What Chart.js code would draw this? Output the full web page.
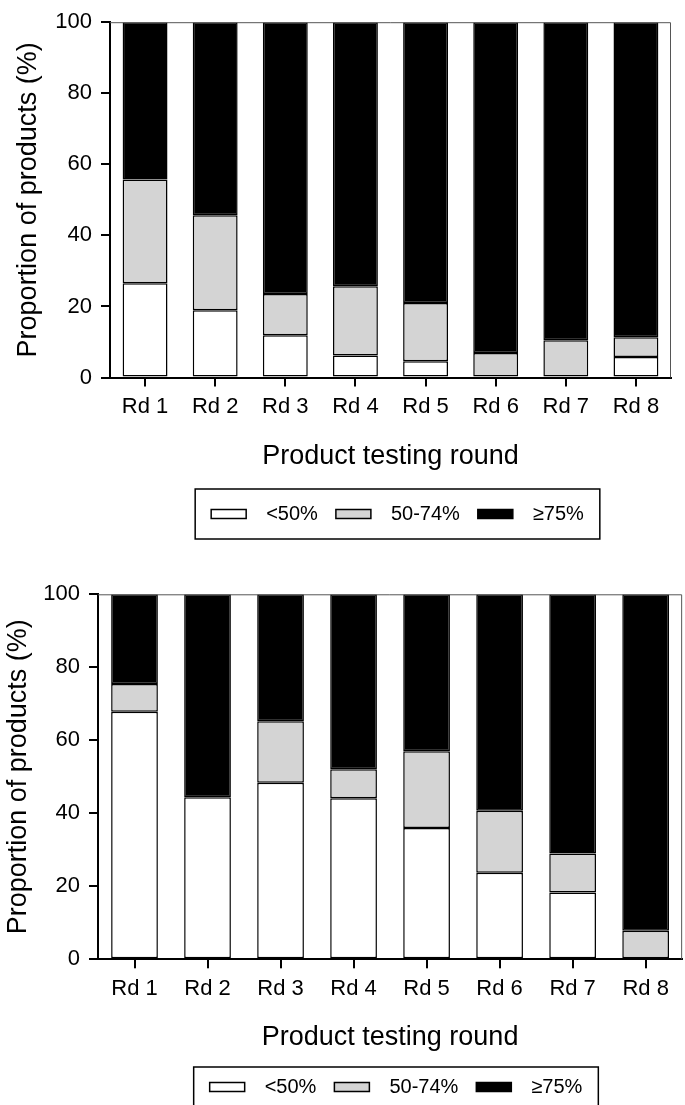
<!DOCTYPE html>
<html>
<head>
<meta charset="utf-8">
<script src="https://cdn.jsdelivr.net/npm/chart.js@4"></script>
<style>
  body { margin: 0; background: #fff; }
  canvas { display: block; }
</style>
</head>
<body>
<canvas id="chartTop" width="685" height="560"></canvas>
<canvas id="chartBottom" width="685" height="545"></canvas>
<script>
// categories
var rounds = ['Rd 1', 'Rd 2', 'Rd 3', 'Rd 4', 'Rd 5', 'Rd 6', 'Rd 7', 'Rd 8'];
var legendLabels = ['<50%', '50-74%', '\u226575%'];
var yTicks = [0, 20, 40, 60, 80, 100];

// top panel (% of products in each band)
var topBelow50 = [26.5, 18.9, 11.9, 6.2, 4.6, 0, 0, 5.8];
var topMid = [29.2, 26.8, 11.6, 19.5, 16.4, 6.9, 10.5, 5.5];
var topHigh = [44.3, 54.3, 76.5, 74.3, 79.0, 93.1, 89.5, 88.7];

// bottom panel
var botBelow50 = [67.8, 44.4, 48.4, 44.1, 36.0, 23.7, 18.3, 0];
var botMid = [7.6, 0, 16.8, 8.0, 21.0, 17.0, 10.7, 7.8];
var botHigh = [24.6, 55.6, 34.8, 47.9, 43.0, 59.3, 71.0, 92.2];

var FONT = '"Liberation Sans", Arial, sans-serif';
Chart.defaults.font.family = FONT;
Chart.defaults.color = '#000';

// thin frame on top and right of the plot area + tick marks under each round
var frame = {
    id: 'frame',
    afterDraw: function(chart) {
        var a = chart.chartArea, ctx = chart.ctx, xs = chart.scales.x;
        ctx.save();
        ctx.strokeStyle = '#555';
        ctx.lineWidth = 1;
        ctx.beginPath();
        ctx.moveTo(a.left, a.top + 0.5);
        ctx.lineTo(a.right - 0.5, a.top + 0.5);
        ctx.lineTo(a.right - 0.5, a.bottom);
        ctx.stroke();
        ctx.fillStyle = '#000';
        rounds.forEach(function(r, i) {
            var px = Math.round(xs.getPixelForValue(i));
            ctx.fillRect(px - 1, a.bottom, 2, 9);
        });
        ctx.restore();
    }
};

// boxed legend under the axis title
var boxLegend = {
    id: 'boxLegend',
    afterDraw: function(chart, args, opts) {
        var ctx = chart.ctx;
        ctx.save();
        ctx.font = opts.fontSize + 'px ' + FONT;
        var items = chart.data.datasets.map(function(ds) {
            return { text: ds.label, fill: ds.backgroundColor, w: ctx.measureText(ds.label).width };
        });
        var total = opts.padX * 2;
        items.forEach(function(it, i) {
            total += opts.swatchW + opts.gap + it.w + (i ? opts.itemGap : 0);
        });
        var left = opts.centerX - total / 2;
        var cy = opts.top + opts.height / 2;
        ctx.strokeStyle = '#000';
        ctx.lineWidth = 1.5;
        ctx.strokeRect(left, opts.top, total, opts.height);
        var x = left + opts.padX;
        ctx.textBaseline = 'middle';
        items.forEach(function(it) {
            ctx.fillStyle = it.fill;
            ctx.fillRect(x, cy - opts.swatchH / 2, opts.swatchW, opts.swatchH);
            ctx.strokeRect(x, cy - opts.swatchH / 2, opts.swatchW, opts.swatchH);
            x += opts.swatchW + opts.gap;
            ctx.fillStyle = '#000';
            ctx.fillText(it.text, x, cy);
            x += it.w + opts.itemGap;
        });
        ctx.restore();
    }
};

function makeChart(id, white, gray, black, lay) {
    var ctx = document.getElementById(id).getContext('2d');
    var bar = { borderColor: '#000', borderWidth: 1.5, borderSkipped: false,
                barPercentage: 0.64, categoryPercentage: 1 };
    return new Chart(ctx, {
        type: 'bar',
        data: {
            labels: rounds,
            datasets: [
                Object.assign({ label: legendLabels[0], backgroundColor: '#ffffff', data: white }, bar),
                Object.assign({ label: legendLabels[1], backgroundColor: '#d4d4d4', data: gray }, bar),
                Object.assign({ label: legendLabels[2], backgroundColor: '#000000', data: black }, bar)
            ]
        },
        options: {
            responsive: false,
            animation: false,
            layout: { padding: lay.padding },
            plugins: {
                legend: { display: false },
                tooltip: { enabled: false },
                boxLegend: { top: lay.legendTop, height: lay.legendH, centerX: lay.legendX,
                             fontSize: 20, padX: 16, swatchW: 35, swatchH: 9, gap: 20, itemGap: 18 }
            },
            scales: {
                x: {
                    stacked: true,
                    grid: { display: true, drawOnChartArea: false, drawTicks: false, color: '#000', lineWidth: 2 },
                    border: { color: '#000', width: 2 },
                    ticks: { padding: 16, font: { size: 22 }, color: '#000' },
                    title: { display: true, text: 'Product testing round', color: '#000',
                             font: { size: 27 }, padding: { top: 0, bottom: 0 } },
                    afterFit: function(s) { s.height = lay.xHeight; }
                },
                y: {
                    stacked: true,
                    min: 0,
                    max: 100,
                    afterBuildTicks: function(s) { s.ticks = yTicks.map(function(v) { return { value: v }; }); },
                    grid: { drawOnChartArea: false, drawTicks: true, tickLength: 9, color: '#000', lineWidth: 2 },
                    border: { color: '#000', width: 2 },
                    ticks: { padding: 9, font: { size: 22 }, color: '#000' },
                    title: { display: true, text: 'Proportion of products (%)', color: '#000',
                             font: { size: 27 }, padding: { top: lay.yTitlePad, bottom: 0 } },
                    afterFit: function(s) { s.width = lay.yWidth; }
                }
            }
        },
        plugins: [frame, boxLegend]
    });
}

makeChart('chartTop', topBelow50, topMid, topHigh, {
    padding: { top: 13.5, right: 14, bottom: 86.8, left: 0 },
    xHeight: 95.7, yWidth: 110, yTitlePad: 12.8,
    legendTop: 489, legendH: 50, legendX: 397.5
});

makeChart('chartBottom', botBelow50, botMid, botHigh, {
    padding: { top: 34.3, right: 2, bottom: 50.8, left: 0 },
    xHeight: 94.9, yWidth: 98, yTitlePad: 2.3,
    legendTop: 507, legendH: 40, legendX: 396
});
</script>
</body>
</html>
